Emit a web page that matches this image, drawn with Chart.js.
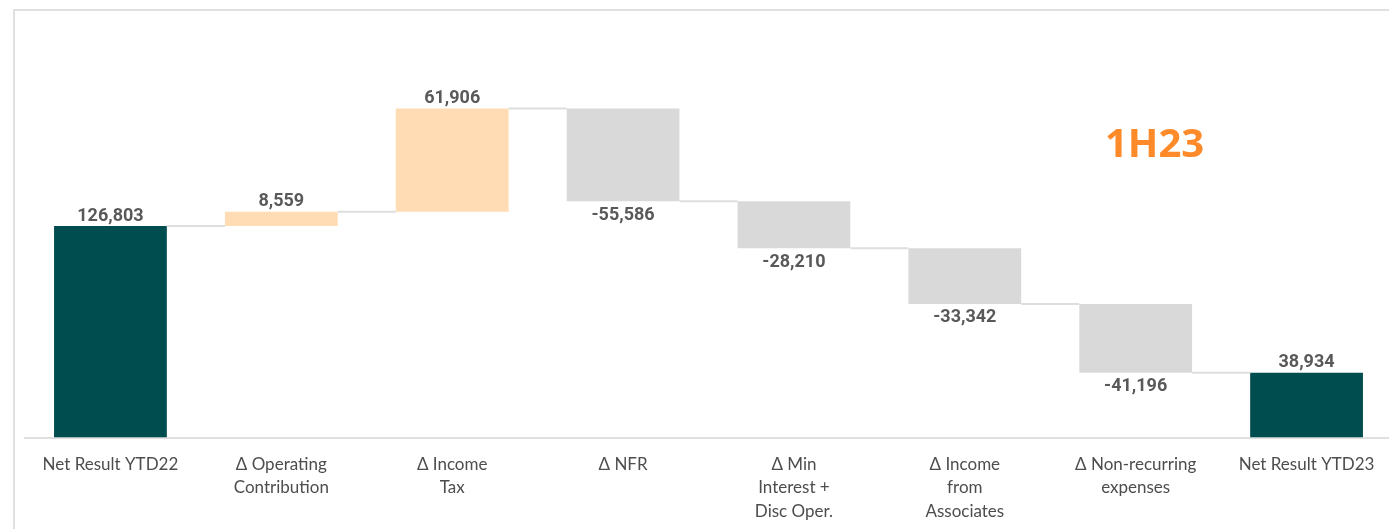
<!DOCTYPE html>
<html>
<head>
<meta charset="utf-8">
<script src="https://cdn.jsdelivr.net/npm/chart.js@4.4.0/dist/chart.umd.min.js"></script>
<style>
  html, body { margin: 0; padding: 0; background: #fff; overflow: hidden; }
  #frame { position: absolute; left: 13px; top: 9px; width: 1400px; height: 540px;
           border-left: 2px solid #e0e0e0; border-top: 2px solid #e0e0e0; }
  #wrap { position: absolute; left: 0; top: 0; width: 1392px; height: 544px; }
  #badge { position: absolute; left: 1105px; top: 114px; font: bold 40px "Open Sans", sans-serif;
           color: #ff8a2a; }
</style>
</head>
<body>
<div id="frame"></div>
<div id="wrap"><canvas id="waterfall"></canvas></div>
<div id="badge">1H23</div>
<script>
// categories (x axis)
const categories = [
  "Net Result YTD22",
  ["Δ Operating", "Contribution"],
  ["Δ Income", "Tax"],
  "Δ NFR",
  ["Δ Min", "Interest +", "Disc Oper."],
  ["Δ Income", "from", "Associates"],
  ["Δ Non-recurring", "expenses"],
  "Net Result YTD23"
];
// values as shown on the labels
const values = [126803, 8559, 61906, -55586, -28210, -33342, -41196, 38934];
// total bars start from zero, the others float on the running sum
const isTotal = [true, false, false, false, false, false, false, true];

const colTotal = "#004d4f";
const colUp = "#ffdcb4";
const colDown = "#d9d9d9";

// build floating ranges
let running = 0;
const ranges = [];
const colors = [];
values.forEach(function (v, i) {
  if (isTotal[i]) {
    ranges.push([0, v]);
    running = v;
    colors.push(colTotal);
  } else {
    ranges.push([running, running + v]);
    running = running + v;
    colors.push(v >= 0 ? colUp : colDown);
  }
});

// connectors + value labels
const waterfallExtras = {
  id: "waterfallExtras",
  afterDatasetsDraw(chart) {
    const ctx = chart.ctx;
    const meta = chart.getDatasetMeta(0);
    const y = chart.scales.y;
    ctx.save();
    // connectors
    ctx.strokeStyle = "#dedede";
    ctx.lineWidth = 2;
    for (let i = 0; i < meta.data.length - 1; i++) {
      const a = meta.data[i], b = meta.data[i + 1];
      const level = y.getPixelForValue(ranges[i][1]);
      ctx.beginPath();
      ctx.moveTo(a.x + a.width / 2, level);
      ctx.lineTo(b.x - b.width / 2, level);
      ctx.stroke();
    }
    // labels
    ctx.font = "bold 18px Roboto, sans-serif";
    ctx.fillStyle = "#595959";
    ctx.textAlign = "center";
    meta.data.forEach(function (bar, i) {
      const v = values[i];
      const txt = v.toLocaleString("en-US");
      const top = y.getPixelForValue(Math.max(ranges[i][0], ranges[i][1]));
      const bottom = y.getPixelForValue(Math.min(ranges[i][0], ranges[i][1]));
      if (v >= 0) {
        ctx.textBaseline = "bottom";
        ctx.fillText(txt, bar.x, top - 1);
      } else {
        ctx.textBaseline = "top";
        ctx.fillText(txt, bar.x, bottom + 5);
      }
    });
    ctx.restore();
  }
};

new Chart(document.getElementById("waterfall"), {
  type: "bar",
  data: {
    labels: categories,
    datasets: [{
      data: ranges,
      backgroundColor: colors,
      borderSkipped: false,
      categoryPercentage: 1,
      barPercentage: 0.66
    }]
  },
  options: {
    responsive: true,
    maintainAspectRatio: false,
    animation: false,
    layout: { padding: { top: 54, left: 25, right: 0, bottom: 6 } },
    plugins: { legend: { display: false }, tooltip: { enabled: false } },
    scales: {
      x: {
        grid: { display: false, drawTicks: false },
        border: { display: true, color: "#e0e0e0", width: 2 },
        ticks: {
          padding: 15,
          maxRotation: 0,
          autoSkip: false,
          color: "#4d4d4d",
          font: { family: "Lato", size: 17, lineHeight: 1.38 }
        }
      },
      y: { display: false, min: 0, max: 230000 }
    }
  },
  plugins: [waterfallExtras]
});
</script>
</body>
</html>
